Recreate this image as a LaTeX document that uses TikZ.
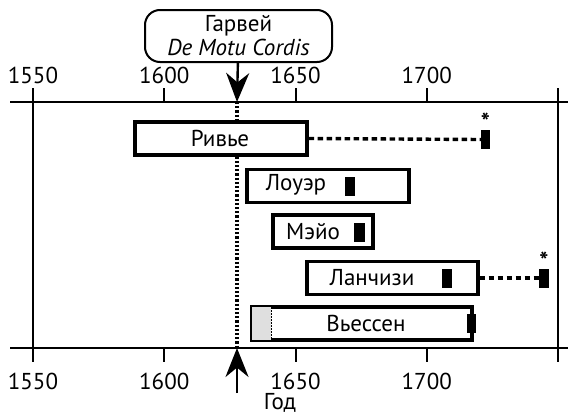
\documentclass[tikz,border=0pt]{standalone}
\usepackage{fontspec}
\setmainfont{PT Sans}
\usetikzlibrary{arrows.meta,positioning,calc}

\begin{document}
\begin{tikzpicture}[
  x=1pt, y=-1pt,
  font=\fontsize{23}{24}\selectfont,
  bar/.style   = {rectangle, draw, line width=3.2pt, fill=white, inner sep=0pt,
                  minimum width=#1, minimum height=33pt},
  blk/.style   = {rectangle, fill=black, inner sep=0pt,
                  minimum width=10pt, minimum height=19pt},
  trail/.style = {line width=3.4pt, dash pattern=on 5.5pt off 3.5pt},
  axis/.style  = {line width=2pt},
  arr/.style   = {-{Stealth[length=29pt, width=23pt]}, line width=2.4pt},
  star/.style  = {inner sep=0pt, font=\fontsize{24}{24}\selectfont\bfseries},
]
\useasboundingbox (0,0) rectangle (568,418);

% axes
\draw[axis] (10,102) -- (568,102);
\draw[axis] (10,348) -- (568,348);
\foreach \yr in {1550,1600,1650,1700,1750}{
  \pgfmathsetmacro{\px}{33+(\yr-1550)*2.625}
  \draw[axis] (\px,102) -- (\px,88);
  \draw[axis] (\px,348) -- (\px,362);
}
\foreach \yr in {1550,1600,1650,1700}{
  \pgfmathsetmacro{\px}{33+(\yr-1550)*2.625}
  \node (top\yr) at (\px,75) {\yr};
  \node (bot\yr) at (\px,381) {\yr};
}
\draw[axis] (33,102) -- (33,348);
\draw[axis] (558,102) -- (558,348);

% 1628
\coordinate (htop) at (237,102);
\coordinate (hbot) at (237,348);
\coordinate (hfoot) at (237,393);
\draw[line width=3.6pt, dash pattern=on 2.2pt off 2pt] (htop) -- (hbot);
\node[draw, line width=2pt, rounded corners=15pt, align=center,
      minimum width=187pt, minimum height=52pt, inner sep=1pt] (harvey)
  at (238.5,36) {Гарвей\\\textit{De Motu Cordis}};
\draw[arr] (harvey) -- (htop);
\draw[arr] (hfoot) -- (hbot);
\node (god) at (280,403) {Год};

% bars
\node[bar=172pt] (rivie) at (221,138.5) {};
\node[bar=162pt] (louer) at (328,186)   {};
\node[bar=100pt] (mayo)  at (323,231.5) {};
\node[bar=171pt] (lanc)  at (392.5,278) {};
\node[bar=220pt] (viess) at (362,323.5) {};

\fill[gray!25] ($(viess.north west)+(1.6,1.6)$) rectangle ($(viess.south west)+(21,-1.6)$);
\draw[line width=1.2pt, dash pattern=on 1.5pt off 1.5pt]
  ($(viess.north west)+(21,1.6)$) -- ($(viess.south west)+(21,-1.6)$);

\node (trivie) at (220,138) {Ривье};
\node (tlouer) at (296,185) {Лоуэр};
\node (tmayo)  at (313,232) {Мэйо};
\node (tlanc)  at (372,278) {Ланчизи};
\node (tviess) at (366,323) {Вьессен};

% marks
\node[blk, minimum width=9pt] (rend) at (485.5,139.5) {};
\node[blk] (lmark) at (350,186)   {};
\node[blk, minimum width=11pt] (mmark) at (359.5,232.5) {};
\node[blk] (cmark) at (447,278)   {};
\node[blk] (cend)  at (544,278)   {};
\node[blk, minimum width=9pt] (vmark) at (471.5,323.5) {};

\draw[trail] (rivie.east) -- (rend.west);
\draw[trail] (lanc.east) -- (cend.west);

\node[star, above=-1pt of rend] (srivie) {*};
\node[star, above=-1pt of cend] (slanc)  {*};
\end{tikzpicture}
\end{document}
